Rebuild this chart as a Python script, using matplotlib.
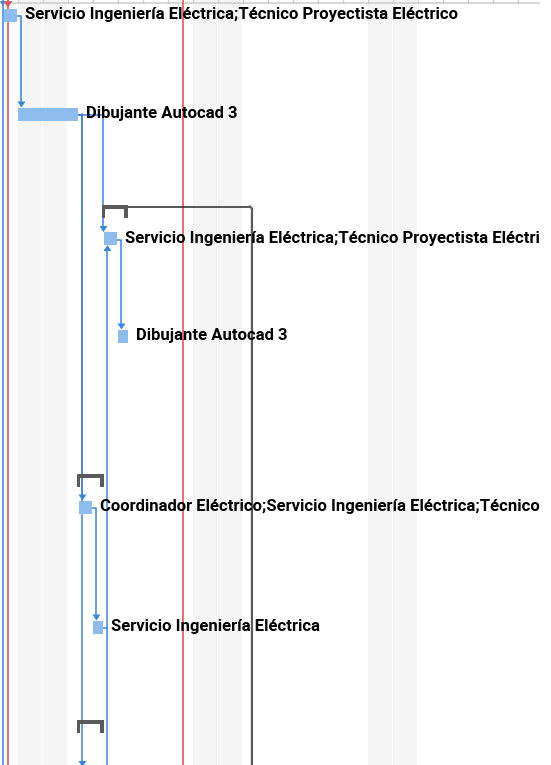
import matplotlib
matplotlib.use("Agg")
import matplotlib.pyplot as plt
from matplotlib.patches import Rectangle, Polygon

# ---------------- data ----------------
task_labels = [
    "Servicio Ingeniería Eléctrica;Técnico Proyectista Eléctrico",
    "Dibujante Autocad 3",
    "Servicio Ingeniería Eléctrica;Técnico Proyectista Eléctrico",
    "Dibujante Autocad 3",
    "Coordinador Eléctrico;Servicio Ingeniería Eléctrica;Técnico Proyectista Eléctrico",
    "Servicio Ingeniería Eléctrica",
]
task_start = [-0.55, 0.01, 3.45, 4.01, 2.45, 3.01]   # days
task_end = [-0.03, 2.41, 3.97, 4.41, 2.97, 3.41]
summary_start = [3.37, 2.37, 2.37]
summary_end = [4.41, 3.45, 3.45]
links = [(0, 1), (1, 2), (1, 4), (2, 3), (4, 5)]
weekend_days = [0, 1, 7, 8, 14, 15]
project_start = -0.59
status_dates = [-0.39, 6.61]
deadline_day = 9.37

# ---------------- layout ----------------
W, H = 551, 765
DPI = 100
PX = 1 / 25.0              # one pixel in days
X0 = -17.7 / 25.0
X1 = (540 - 17.7) / 25.0
task_y = [15, 114, 238.5, 336, 507, 627]   # row centres (px)
summary_y = [205, 474, 720]
BAR_H = 13

BAR_C = "#8ebcec"
LINK_C = "#3a86dc"
RED_C = "#e05a5a"
SUM_C = "#5a5a5a"

fig = plt.figure(figsize=(W / DPI, H / DPI), dpi=DPI)
ax = fig.add_axes([0, 0, 540 / W, 1])
ax.set_xlim(X0, X1)
ax.set_ylim(H, 0)
ax.axis("off")

# weekend shading
for d in weekend_days:
    ax.add_patch(Rectangle((d + PX * 0.5, 0), 1 - PX, H, color="#f5f5f5", lw=0, zorder=0))

# header line + ticks
ax.plot([X0, X1], [3, 3], color="#cfcfcf", lw=1.2, zorder=1)
d = -1
while d < X1:
    ax.plot([d, d], [0, 3], color="#cfcfcf", lw=1, zorder=1)
    d += 1

# vertical reference lines
ax.plot([project_start, project_start], [0, H], color=LINK_C, lw=1.1, zorder=2)
for sd in status_dates:
    ax.plot([sd, sd], [0, H], color=RED_C, lw=1.2, zorder=2)
ax.add_patch(Polygon([(project_start - 3 * PX, 1), (project_start + 3 * PX, 1), (project_start, 6)],
                     closed=True, color=LINK_C, lw=0, zorder=5))
ax.add_patch(Polygon([(status_dates[0] - 4.5 * PX, 1), (status_dates[0] + 4.5 * PX, 1), (status_dates[0], 8)],
                     closed=True, color=RED_C, lw=0, zorder=6))


def arrow_down(x, ytip):
    ax.add_patch(Polygon([(x - 4 * PX, ytip - 6), (x + 4 * PX, ytip - 6), (x, ytip)],
                         closed=True, color=LINK_C, lw=0, zorder=4))


def arrow_up(x, ytip):
    ax.add_patch(Polygon([(x - 4 * PX, ytip + 6), (x + 4 * PX, ytip + 6), (x, ytip)],
                         closed=True, color=LINK_C, lw=0, zorder=4))


# links
for a, b in links:
    xe = task_end[a]
    ya = task_y[a] + 1
    xv = max(xe + 4.5 * PX, task_start[b] - 0.5 * PX)
    ytip = task_y[b] - BAR_H / 2
    ax.plot([xe, xv, xv], [ya, ya, ytip - 5], color=LINK_C, lw=1.1, zorder=3,
            solid_joinstyle="round")
    arrow_down(xv, ytip)

# link from task 1 continuing below view
xv1 = task_end[1] + 4.5 * PX
ax.plot([xv1, xv1], [task_y[1], H], color=LINK_C, lw=1.1, zorder=3)
arrow_down(xv1, H + 2)

# link from task 5 (and below) up to task 2
xu = task_end[5] + 4.5 * PX
ax.plot([task_end[5], xu], [task_y[5] + 1, task_y[5] + 1], color=LINK_C, lw=1.1, zorder=3)
ax.plot([xu, xu], [task_y[2] + BAR_H / 2 + 5, H], color=LINK_C, lw=1.1, zorder=3)
arrow_up(xu, task_y[2] + BAR_H / 2)

# dark line from summary 1
ax.plot([summary_end[0], deadline_day - 2 * PX], [summary_y[0] + 1.5, summary_y[0] + 1.5],
        color="#2a2a2a", lw=1.1, zorder=3)
ax.plot([deadline_day - 2 * PX, deadline_day, deadline_day], [summary_y[0] + 1.5, summary_y[0] + 3.5, H],
        color="#5a5a5a", lw=1.6, zorder=3)

# summary brackets
for s, e, y in zip(summary_start, summary_end, summary_y):
    ax.add_patch(Rectangle((s, y), e - s, 3.5, color=SUM_C, lw=0, zorder=4))
    ax.add_patch(Rectangle((s, y), 3.5 * PX, 13, color=SUM_C, lw=0, zorder=4))
    ax.add_patch(Rectangle((e - 3.5 * PX, y), 3.5 * PX, 13, color=SUM_C, lw=0, zorder=4))

# task bars and labels (labels run past the chart edge and are clipped, as in the reference)
texts = []
for lab, s, e, y in zip(task_labels, task_start, task_end, task_y):
    ax.add_patch(Rectangle((s, y - BAR_H / 2), e - s, BAR_H, color=BAR_C, lw=0, zorder=3.5))
    t = ax.text(e + 8.5 * PX, y - 0.5, lab, fontsize=10, fontweight="bold",
                family=["Roboto", "DejaVu Sans"], color="black", va="center", ha="left",
                zorder=6, clip_on=True)
    texts.append(t)

# fit font size so first label spans ~433 px
fig.canvas.draw()
r = fig.canvas.get_renderer()
w = texts[0].get_window_extent(r).width
fs = 10 * 433.0 / w
for t in texts:
    t.set_fontsize(fs)

fig.savefig("out.png", dpi=DPI)
